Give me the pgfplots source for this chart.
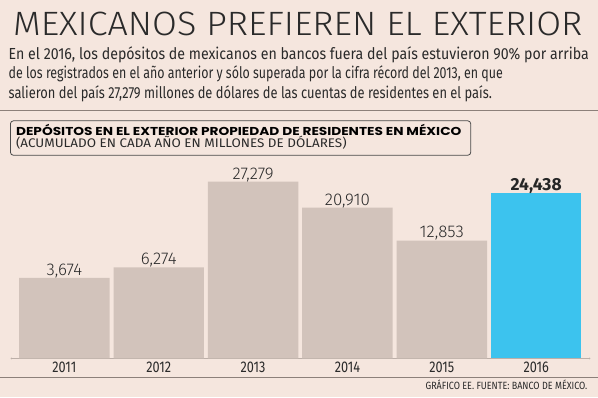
\documentclass[border=0pt]{standalone}
\usepackage{pgfplots}
\pgfplotsset{compat=1.18}
\usepackage{pgfplotstable}
\usepackage{fontspec}
\setmainfont{Fira Sans}
\newfontfamily\titlefont{Fira Sans Light}
\newfontfamily\headfont{Poppins}
\definecolor{bg}{HTML}{F5E6DE}
\definecolor{barg}{HTML}{D2C3BB}
\definecolor{barb}{HTML}{3CC3EE}
\definecolor{txt}{HTML}{2A2A2A}
\definecolor{rulec}{HTML}{8C807A}
\definecolor{axl}{HTML}{BCAFA8}

\pgfplotstableread{
x v
0 3674
1 6274
2 27279
3 20910
4 12853
}\greydata
\pgfplotstableread{
x v
5 24438
}\bluedata

\newcommand\tl[1]{\scalebox{0.82}[1]{#1}}

\begin{document}
\begin{tikzpicture}
\fill[bg] (0pt,0pt) rectangle (598pt,-398pt);
\node[anchor=base west, inner sep=0pt, text=txt] at (12.5pt,-35.5pt)
  {\resizebox{570pt}{23.5pt}{\titlefont MEXICANOS PREFIEREN EL EXTERIOR}};
\node[anchor=base west, inner sep=0pt, text=txt] at (8pt,-59.5pt)
  {\resizebox{581pt}{\height}{\fontsize{16}{16}\selectfont En el 2016, los depósitos de mexicanos en bancos fuera del país estuvieron 90\% por arriba}};
\node[anchor=base west, inner sep=0pt, text=txt] at (8pt,-79pt)
  {\resizebox{495pt}{\height}{\fontsize{16}{16}\selectfont de los registrados en el año anterior y sólo superada por la cifra récord del 2013, en que}};
\node[anchor=base west, inner sep=0pt, text=txt] at (8pt,-98.5pt)
  {\resizebox{484pt}{\height}{\fontsize{16}{16}\selectfont salieron del país 27,279 millones de dólares de las cuentas de residentes en el país.}};
\draw[rulec, line width=0.9pt] (0pt,-110.5pt) -- (598pt,-110.5pt);
\draw[draw=txt!85, line width=0.8pt, rounded corners=3pt] (10pt,-121pt) rectangle (471pt,-155.5pt);
\node[anchor=base west, inner sep=0pt, text=black] at (15.5pt,-136pt)
  {\resizebox{446pt}{\height}{\headfont\bfseries\fontsize{11.5}{11.5}\selectfont DEPÓSITOS EN EL EXTERIOR PROPIEDAD DE RESIDENTES EN MÉXICO}};
\node[anchor=base west, inner sep=0pt, text=txt] at (15.5pt,-148pt)
  {\resizebox{331pt}{\height}{\fontsize{12.5}{12.5}\selectfont (ACUMULADO EN CADA AÑO EN MILLONES DE DÓLARES)}};
\draw[rulec, line width=0.9pt] (0pt,-378.5pt) -- (598pt,-378.5pt);
\node[anchor=base east, inner sep=0pt, text=txt] at (588pt,-390.5pt)
  {\resizebox{162pt}{\height}{\fontsize{10.5}{10.5}\selectfont GRÁFICO EE. FUENTE: BANCO DE MÉXICO.}};
\begin{axis}[
  at={(11pt,-359pt)}, anchor=south west,
  scale only axis, width=579pt, height=177pt,
  xmin=-0.561, xmax=5.566, ymin=0, ymax=43379,
  axis y line=none, axis x line*=bottom,
  axis line style={draw=axl, line width=0.8pt},
  xtick={0,1,2,3,4,5},
  xticklabels={\tl{2011},\tl{2012},\tl{2013},\tl{2014},\tl{2015},\tl{2016}},
  major tick length=0pt,
  xticklabel style={font=\fontsize{15.5}{15.5}\selectfont, text=txt, anchor=north, inner sep=0pt, yshift=-3.5pt},
  ybar, bar width=0.958, bar shift=0pt,
  clip=false,
  point meta=explicit,
  nodes near coords={\pgfmathprintnumber[fixed,precision=0,1000 sep={,},assume math mode=true]{\pgfplotspointmeta}},
  every node near coord/.append style={anchor=base, inner sep=0pt, yshift=2.6pt, text=txt, font=\titlefont\fontsize{17}{17}\selectfont},
]
\addplot[fill=barg, draw=none, bar shift=0pt] table[x=x, y expr=\thisrow{v}+16100, meta=v]{\greydata};
\addplot[fill=barb, draw=none, bar shift=0pt, every node near coord/.append style={font=\normalfont\bfseries\fontsize{17.5}{17.5}\selectfont, text=black!85}] table[x=x, y expr=\thisrow{v}+16100, meta=v]{\bluedata};
\fill[axl] (rel axis cs:0,0) circle (0.9pt);
\fill[axl] (rel axis cs:1,0) circle (0.9pt);
\end{axis}
\end{tikzpicture}
\end{document}
